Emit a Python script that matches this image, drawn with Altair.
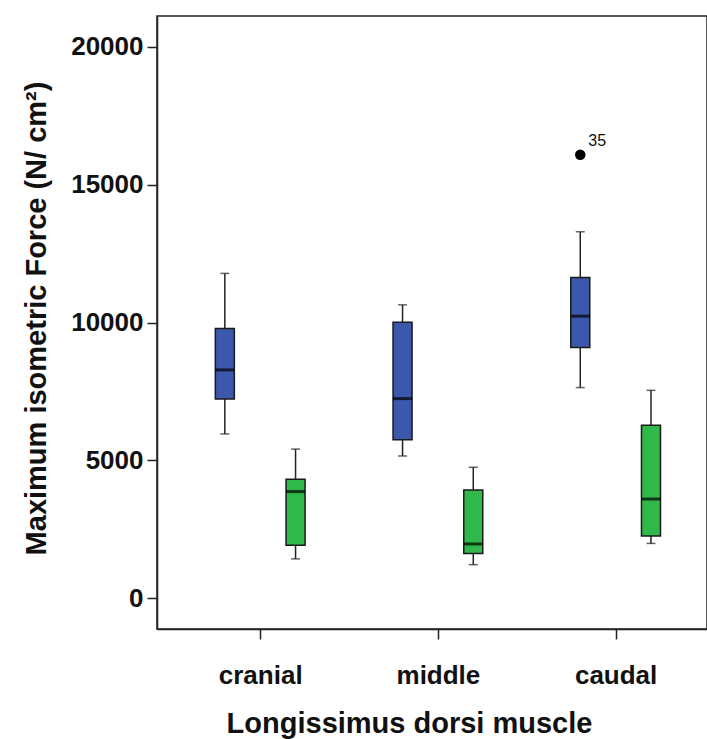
import json
import altair as alt
import pandas as pd

# ---- data ----
categories = ["cranial", "middle", "caudal"]
series = ["Group 1", "Group 2"]

blue_low = [5960, 5160, 7640]
blue_q1 = [7230, 5750, 9090]
blue_median = [8280, 7240, 10230]
blue_q3 = [9780, 10010, 11630]
blue_high = [11780, 10640, 13290]

green_low = [1430, 1220, 1990]
green_q1 = [1920, 1620, 2260]
green_median = [3870, 1970, 3600]
green_q3 = [4320, 3930, 6270]
green_high = [5410, 4750, 7540]

outlier_category = ["caudal"]
outlier_series = ["Group 1"]
outlier_value = [16080]
outlier_label = ["35"]

y_ticks = [0, 5000, 10000, 15000, 20000]

# ---- build tables ----
rows = []
for s, arrs in zip(series, [
    (blue_low, blue_q1, blue_median, blue_q3, blue_high),
    (green_low, green_q1, green_median, green_q3, green_high),
]):
    for i, cat in enumerate(categories):
        rows.append(dict(cat=cat, idx=i + 1, series=s,
                         low=arrs[0][i], q1=arrs[1][i], med=arrs[2][i],
                         q3=arrs[3][i], high=arrs[4][i]))
df = pd.DataFrame(rows)

out_df = pd.DataFrame(dict(
    cat=outlier_category,
    idx=[categories.index(c) + 1 for c in outlier_category],
    series=outlier_series, value=outlier_value, label=outlier_label,
))

FONT = "Liberation Sans, Arial, sans-serif"
BLUE = "#3C58AD"
GREEN = "#31B84B"
OFFSET = 0.199

label_expr = json.dumps(categories) + "[datum.value - 1]"

x_enc = alt.X(
    "pos:Q",
    scale=alt.Scale(domain=[0.4475, 3.486], nice=False, zero=False),
    axis=alt.Axis(
        values=[1, 2, 3], labelExpr=label_expr,
        title="Longissimus dorsi muscle",
        grid=False, tickSize=10, tickWidth=1.5, tickColor="#222",
        domainColor="#222", domainWidth=1.5,
        labelFont=FONT, labelFontWeight="bold", labelFontSize=26,
        labelColor="#111", labelBaseline="alphabetic", labelPadding=44,
        titleFont=FONT, titleFontWeight="bold", titleFontSize=29,
        titleColor="#111", titleX=252, titleY=103,
        titleBaseline="alphabetic", titleAnchor="start", titleAlign="center",
    ),
)


def y_enc(field):
    return alt.Y(
        field,
        scale=alt.Scale(domain=[-1113, 21113], nice=False, zero=False),
        axis=alt.Axis(
            values=y_ticks, format="d",
            title="Maximum isometric Force (N/ cm²)",
            grid=False, tickSize=10, tickWidth=1.5, tickColor="#222",
            domainColor="#222", domainWidth=1.5,
            labelFont=FONT, labelFontWeight="bold", labelFontSize=26,
            labelColor="#111", labelPadding=4,
            titleFont=FONT, titleFontWeight="bold", titleFontSize=29,
            titleColor="#111", titleX=-135, titleY=302,
            titleBaseline="top", titleAlign="center", titleAngle=270,
        ),
    )


color_enc = alt.Color("series:N", scale=alt.Scale(domain=series, range=[BLUE, GREEN]), legend=None)

pos_calc = f"datum.idx + (datum.series == '{series[0]}' ? -{OFFSET} : {OFFSET})"
base = alt.Chart(df).transform_calculate(pos=pos_calc)

whisker = base.mark_rule(color="#222", strokeWidth=1.5).encode(
    x=x_enc, y=y_enc("low:Q"), y2="high:Q")
cap_low = base.mark_tick(orient="horizontal", size=9, thickness=1.5, color="#222").encode(
    x=x_enc, y=y_enc("low:Q"))
cap_high = base.mark_tick(orient="horizontal", size=9, thickness=1.5, color="#222").encode(
    x=x_enc, y=y_enc("high:Q"))
box = base.mark_bar(size=19, stroke="#1a1a1a", strokeWidth=1.5, opacity=1).encode(
    x=x_enc, y=y_enc("q1:Q"), y2="q3:Q", color=color_enc)
median = base.mark_tick(orient="horizontal", size=19, thickness=3, color="#000").encode(
    x=x_enc, y=y_enc("med:Q"))

obase = alt.Chart(out_df).transform_calculate(pos=pos_calc)
opoint = obase.mark_point(filled=True, shape="circle", size=110, color="#000", opacity=1).encode(
    x=x_enc, y=y_enc("value:Q"))
otext = obase.mark_text(align="left", baseline="alphabetic", dx=8, dy=-9,
                        font="Liberation Sans, Arial, sans-serif", fontSize=16,
                        color="#111").encode(
    x=x_enc, y=y_enc("value:Q"), text="label:N")

chart = alt.layer(whisker, cap_low, cap_high, box, median, opoint, otext).properties(
    width=550, height=613,
    autosize=alt.AutoSizeParams(type="none"),
    padding={"left": 157, "top": 16, "right": 0, "bottom": 110},
    background="white",
).configure_view(stroke="#222", strokeWidth=1.5)

chart.save("out.html", embed_options={"renderer": "svg", "actions": False})
